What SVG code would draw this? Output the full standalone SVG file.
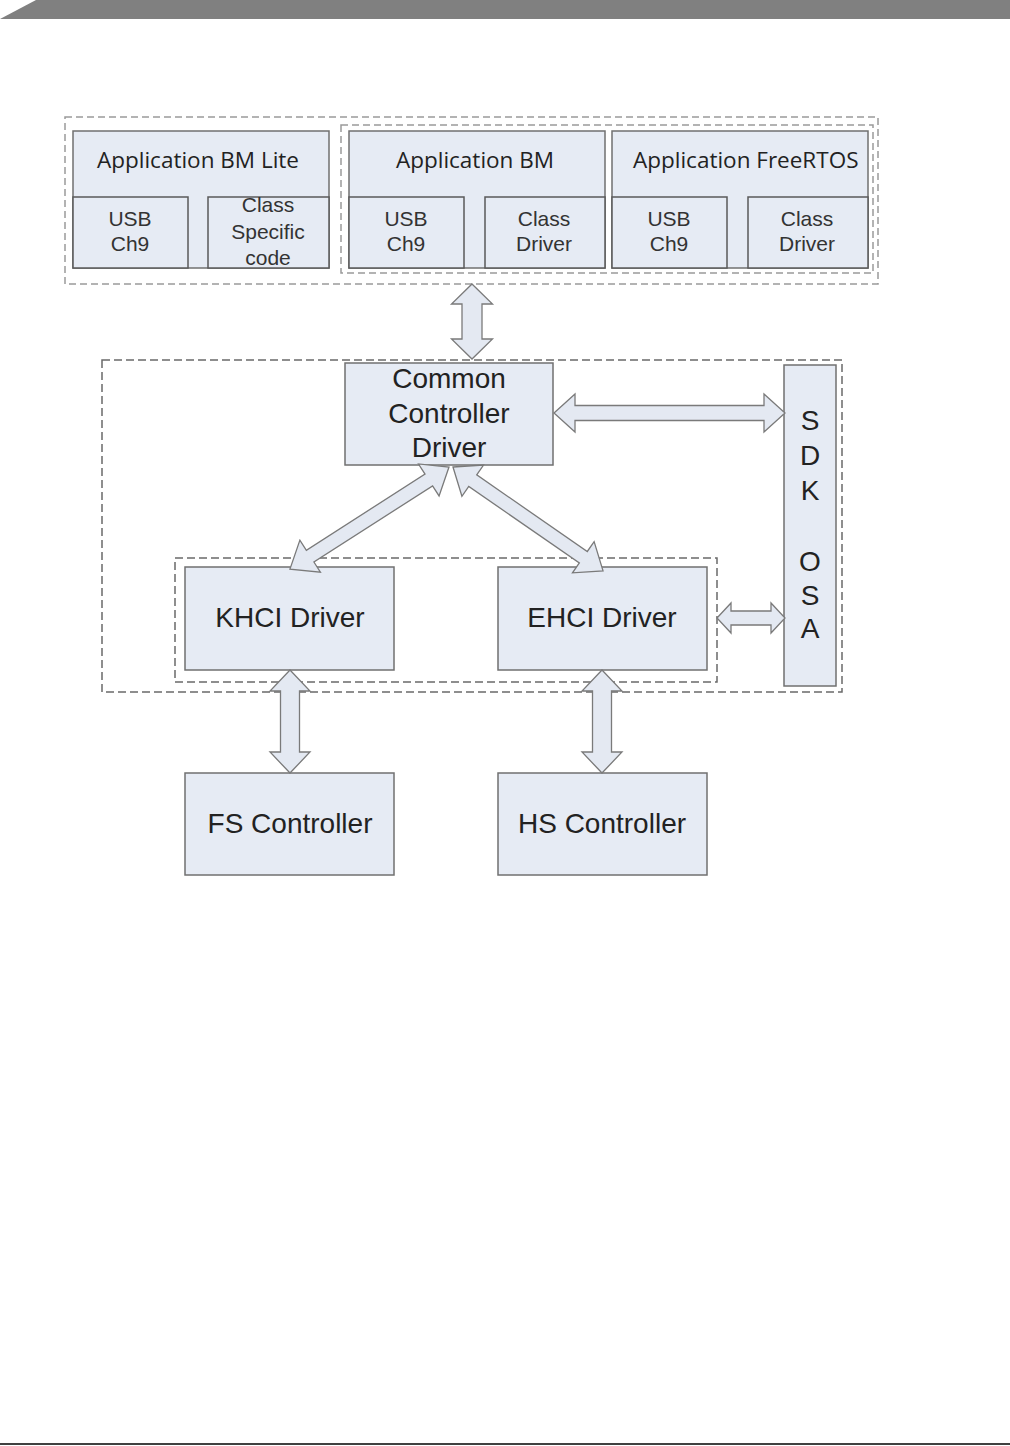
<svg xmlns="http://www.w3.org/2000/svg" width="1010" height="1446" viewBox="0 0 1010 1446">
<style>
.box{fill:#e6ebf4;stroke:#707070;stroke-width:1.5}
.sub{fill:#e6ebf4;stroke:#5a5a5a;stroke-width:1.5}
.dash1{fill:none;stroke:#9a9a9a;stroke-width:1.5;stroke-dasharray:7 4}
.dash2{fill:none;stroke:#6a6a6a;stroke-width:1.5;stroke-dasharray:8 4}
.arr{fill:#e4e9f2;stroke:#7a7a7a;stroke-width:1.3;stroke-linejoin:miter}
.t1{font-family:"Open Sans","Liberation Sans",sans-serif;font-size:22.5px;fill:#222}
.t2{font-family:"Liberation Sans",Arial,sans-serif;font-size:21px;fill:#333;text-anchor:middle}
.t3{font-family:"Liberation Sans",Arial,sans-serif;font-size:28px;fill:#222;text-anchor:middle}
</style>
<rect width="1010" height="1446" fill="#ffffff"/>
<polygon points="0,19 36,0 1010,0 1010,19" fill="#808080"/>
<line x1="0" y1="1444" x2="1010" y2="1444" stroke="#000" stroke-width="1.5"/>

<g id="groups">
<rect class="dash1" x="65" y="117" width="813" height="167"/>
<rect class="dash1" x="341" y="125" width="532" height="148"/>
<rect class="dash2" x="102" y="360" width="740" height="332"/>
<rect class="dash2" x="175" y="558" width="542" height="124"/>
</g>

<g id="app-bm-lite">
<rect class="box" x="73" y="131" width="256" height="137"/>
<text class="t1" x="198" y="168" text-anchor="middle">Application BM Lite</text>
<rect class="sub" x="73" y="197" width="115" height="71"/>
<text class="t2" x="130" y="226">USB</text>
<text class="t2" x="130" y="251">Ch9</text>
<rect class="sub" x="208" y="197" width="121" height="71"/>
<text class="t2" x="268" y="212">Class</text>
<text class="t2" x="268" y="239">Specific</text>
<text class="t2" x="268" y="265">code</text>
</g>

<g id="app-bm">
<rect class="box" x="349" y="131" width="256" height="137"/>
<text class="t1" x="475" y="168" text-anchor="middle">Application BM</text>
<rect class="sub" x="349" y="197" width="115" height="71"/>
<text class="t2" x="406" y="226">USB</text>
<text class="t2" x="406" y="251">Ch9</text>
<rect class="sub" x="485" y="197" width="120" height="71"/>
<text class="t2" x="544" y="226">Class</text>
<text class="t2" x="544" y="251">Driver</text>
</g>

<g id="app-freertos">
<rect class="box" x="612" y="131" width="256" height="137"/>
<text class="t1" x="633" y="168">Application FreeRTOS</text>
<rect class="sub" x="612" y="197" width="115" height="71"/>
<text class="t2" x="669" y="226">USB</text>
<text class="t2" x="669" y="251">Ch9</text>
<rect class="sub" x="748" y="197" width="120" height="71"/>
<text class="t2" x="807" y="226">Class</text>
<text class="t2" x="807" y="251">Driver</text>
</g>

<g id="common-controller-driver">
<rect class="box" x="345" y="363" width="208" height="102"/>
<text class="t3" x="449" y="388">Common</text>
<text class="t3" x="449" y="423">Controller</text>
<text class="t3" x="449" y="457">Driver</text>
</g>

<g id="sdk-osa">
<rect class="box" x="784" y="365" width="52" height="321"/>
<text class="t3" x="810" y="430" font-size="26">S</text>
<text class="t3" x="810" y="465" font-size="26">D</text>
<text class="t3" x="810" y="500" font-size="26">K</text>
<text class="t3" x="810" y="571" font-size="26">O</text>
<text class="t3" x="810" y="605" font-size="26">S</text>
<text class="t3" x="810" y="638" font-size="26">A</text>
</g>

<g id="khci-driver">
<rect class="box" x="185" y="567" width="209" height="103"/>
<text class="t3" x="290" y="627">KHCI Driver</text>
</g>

<g id="ehci-driver">
<rect class="box" x="498" y="567" width="209" height="103"/>
<text class="t3" x="602" y="627">EHCI Driver</text>
</g>

<g id="fs-controller">
<rect class="box" x="185" y="773" width="209" height="102"/>
<text class="t3" x="290" y="833">FS Controller</text>
</g>

<g id="hs-controller">
<rect class="box" x="498" y="773" width="209" height="102"/>
<text class="t3" x="602" y="833">HS Controller</text>
</g>

<g id="connectors">
<polygon class="arr" transform="translate(472,284) rotate(90)" points="0,0 20,-20.5 20,-10 55,-10 55,-20.5 75,0 55,20.5 55,10 20,10 20,20.5"/>
<polygon class="arr" transform="translate(554,413)" points="0,0 21,-19 21,-7.5 210,-7.5 210,-19 231,0 210,19 210,7.5 21,7.5 21,19"/>
<polygon class="arr" transform="translate(717,618)" points="0,0 14,-15 14,-7 54,-7 54,-15 68,0 54,15 54,7 14,7 14,15"/>
<polygon class="arr" transform="translate(449,467) rotate(147.3)" points="0,0 24,-19 24,-7 165,-7 165,-19 189,0 165,19 165,7 24,7 24,19"/>
<polygon class="arr" transform="translate(453,467) rotate(34.7)" points="0,0 24,-19 24,-7 158.5,-7 158.5,-19 182.5,0 158.5,19 158.5,7 24,7 24,19"/>
<polygon class="arr" transform="translate(290,670) rotate(90)" points="0,0 21,-20 21,-9.5 82,-9.5 82,-20 103,0 82,20 82,9.5 21,9.5 21,20"/>
<polygon class="arr" transform="translate(602,670) rotate(90)" points="0,0 21,-20 21,-9.5 82,-9.5 82,-20 103,0 82,20 82,9.5 21,9.5 21,20"/>
</g>
</svg>
